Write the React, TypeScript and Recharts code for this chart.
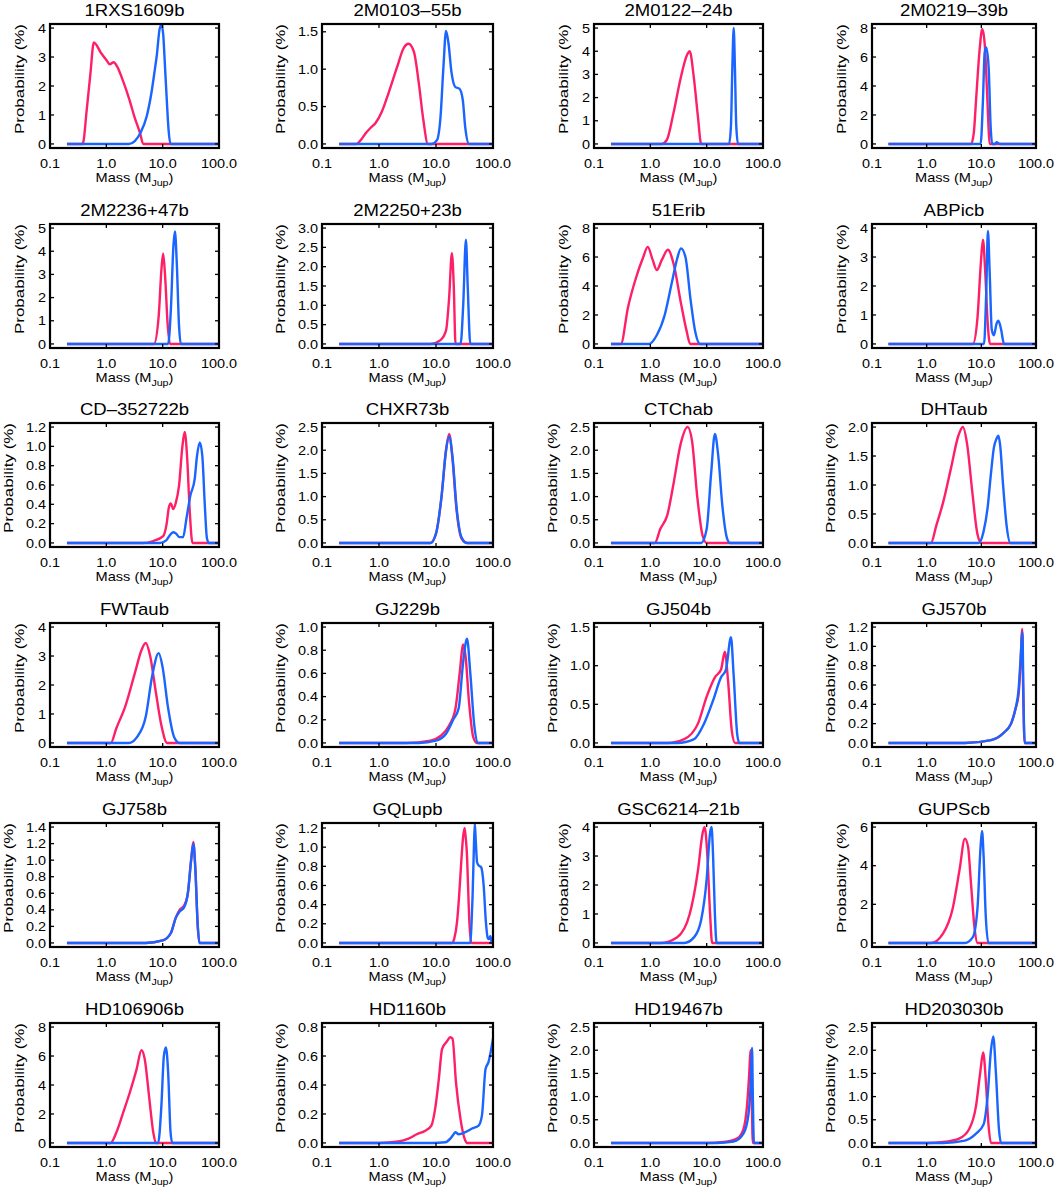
import React from 'react';
import { LineChart, Line, XAxis, YAxis } from 'recharts';

type Pt = [number, number];

const FONT = '"Liberation Sans", Arial, Helvetica, sans-serif';
const PINK = '#ff1f66';
const BLUE = '#1a64ff';

// Object names, in reading order (4 per row)
const TITLES = [
  '1RXS1609b', '2M0103–55b', '2M0122–24b', '2M0219–39b',
  '2M2236+47b', '2M2250+23b', '51Erib', 'ABPicb',
  'CD–352722b', 'CHXR73b', 'CTChab', 'DHTaub',
  'FWTaub', 'GJ229b', 'GJ504b', 'GJ570b',
  'GJ758b', 'GQLupb', 'GSC6214–21b', 'GUPScb',
  'HD106906b', 'HD1160b', 'HD19467b', 'HD203030b',
];

// Mass axis (Jupiter masses, log)
const X_TICKS = [0.1, 1, 10, 100];
const X_TICK_LABELS = ['0.1', '1.0', '10.0', '100.0'];

// Probability axis: upper data bound, tick values and decimals per panel
const Y_MAX = [4, 1.55, 5, 8, 5, 3, 8, 4, 1.2, 2.5, 2.5, 2, 4, 1, 1.5, 1.2, 1.4, 1.21, 4, 6, 8, 0.8, 2.5, 2.5];
const Y_TICKS: number[][] = [
  [0, 1, 2, 3, 4], [0, 0.5, 1, 1.5], [0, 1, 2, 3, 4, 5], [0, 2, 4, 6, 8],
  [0, 1, 2, 3, 4, 5], [0, 0.5, 1, 1.5, 2, 2.5, 3], [0, 2, 4, 6, 8], [0, 1, 2, 3, 4],
  [0, 0.2, 0.4, 0.6, 0.8, 1, 1.2], [0, 0.5, 1, 1.5, 2, 2.5], [0, 0.5, 1, 1.5, 2, 2.5], [0, 0.5, 1, 1.5, 2],
  [0, 1, 2, 3, 4], [0, 0.2, 0.4, 0.6, 0.8, 1], [0, 0.5, 1, 1.5], [0, 0.2, 0.4, 0.6, 0.8, 1, 1.2],
  [0, 0.2, 0.4, 0.6, 0.8, 1, 1.2, 1.4], [0, 0.2, 0.4, 0.6, 0.8, 1, 1.2], [0, 1, 2, 3, 4], [0, 2, 4, 6],
  [0, 2, 4, 6, 8], [0, 0.2, 0.4, 0.6, 0.8], [0, 0.5, 1, 1.5, 2, 2.5], [0, 0.5, 1, 1.5, 2, 2.5],
];
const Y_DECIMALS = [0, 1, 0, 0, 0, 1, 0, 0, 1, 1, 1, 1, 0, 1, 1, 1, 1, 1, 0, 0, 0, 1, 1, 1];

// Probability distributions: [mass, probability %]
const RXS1609_PINK: Pt[] = [[0.2, 0], [0.38, 0], [0.45, 1.2], [0.52, 2.4], [0.6, 3.5], [0.8, 3.15], [1.0, 2.9], [1.15, 2.75], [1.35, 2.82], [1.55, 2.68], [2.0, 2.15], [2.5, 1.6], [3.2, 0.9], [4.0, 0.35], [4.5, 0], [100, 0]];
const RXS1609_BLUE: Pt[] = [[0.2, 0], [2.5, 0], [3.2, 0.1], [4.0, 0.37], [5.2, 0.95], [6.3, 1.75], [7.3, 2.6], [7.8, 3.0], [8.9, 4.0], [9.5, 4.1], [10.2, 3.8], [11.0, 2.67], [12.0, 1.3], [12.6, 0.6], [13.8, 0], [100, 0]];

const M0103_PINK: Pt[] = [[0.2, 0], [0.4, 0], [0.5, 0.07], [0.58, 0.14], [0.72, 0.22], [0.87, 0.28], [1.12, 0.43], [1.47, 0.68], [2.08, 1.03], [2.7, 1.28], [3.3, 1.34], [4.1, 1.23], [5.0, 0.81], [6.0, 0.32], [7.2, 0], [100, 0]];
const M0103_BLUE: Pt[] = [[0.2, 0], [8.5, 0], [10.4, 0.05], [12, 0.36], [13.5, 1.03], [15, 1.51], [16.6, 1.34], [18.6, 0.97], [21.9, 0.76], [25.7, 0.74], [29.5, 0.59], [32.5, 0.23], [38, 0], [100, 0]];

const M0122_PINK: Pt[] = [[0.2, 0], [1.59, 0], [1.96, 0.17], [2.57, 1.32], [3.39, 2.75], [4.46, 3.83], [5.0, 4.0], [5.9, 2.89], [7.0, 1.17], [8.0, 0], [100, 0]];
const M0122_BLUE: Pt[] = [[0.2, 0], [25, 0], [27, 0.8], [28.5, 3.2], [30.2, 5.0], [31.8, 3.2], [33.5, 0.8], [36, 0], [100, 0]];

const M0219_PINK: Pt[] = [[0.2, 0], [6.5, 0], [7.3, 0.8], [8.0, 3.0], [9.3, 6.5], [10.4, 7.93], [11.5, 6.96], [12.9, 3.04], [13.6, 1.0], [14.2, 0], [100, 0]];
const M0219_BLUE: Pt[] = [[0.2, 0], [9.7, 0], [10.7, 3.0], [11.5, 6.3], [12.3, 6.66], [13.6, 5.3], [14.8, 1.2], [15.8, 0], [18, 0], [19, 0.12], [21.8, 0], [100, 0]];

const M2236_PINK: Pt[] = [[0.2, 0], [7, 0], [8.5, 1.2], [9.5, 3.2], [10.2, 3.9], [11, 3.0], [12.3, 0.8], [13.5, 0], [100, 0]];
const M2236_BLUE: Pt[] = [[0.2, 0], [12.5, 0], [14, 1.5], [15.5, 4.2], [16.5, 4.85], [17.8, 3.5], [19.5, 0.8], [21, 0], [100, 0]];

const M2250_PINK: Pt[] = [[0.2, 0], [8, 0], [12, 0.1], [15, 0.35], [17, 1.2], [19, 2.35], [20.5, 1.5], [22, 0], [100, 0]];
const M2250_BLUE: Pt[] = [[0.2, 0], [27, 0], [30, 1.0], [33.5, 2.7], [36, 1.5], [40, 0], [100, 0]];

const ERI51_PINK: Pt[] = [[0.2, 0], [0.3, 0], [0.4, 2.5], [0.55, 4.5], [0.75, 6.0], [0.9, 6.7], [1.1, 5.8], [1.3, 5.1], [1.6, 5.8], [2.05, 6.5], [2.6, 5.5], [3.5, 2.8], [4.4, 0.9], [5.1, 0], [100, 0]];
const ERI51_BLUE: Pt[] = [[0.2, 0], [0.95, 0], [1.3, 0.6], [1.8, 2.0], [2.4, 4.2], [3.0, 5.9], [3.5, 6.6], [4.2, 6.0], [5.2, 3.0], [6.3, 0.8], [7.6, 0], [100, 0]];

const ABPIC_PINK: Pt[] = [[0.2, 0], [7, 0], [8.5, 0.9], [9.8, 2.8], [10.7, 3.6], [11.7, 2.6], [13, 0.8], [14.4, 0], [100, 0]];
const ABPIC_BLUE: Pt[] = [[0.2, 0], [11.2, 0], [12.3, 1.8], [13.2, 3.9], [14.2, 2.5], [15.5, 0.5], [17, 0.3], [19, 0.7], [20.5, 0.8], [23, 0.5], [26, 0], [100, 0]];

const CD35_PINK: Pt[] = [[0.2, 0], [4.5, 0], [6.8, 0.02], [10.2, 0.07], [11.7, 0.19], [12.9, 0.37], [13.9, 0.41], [15.4, 0.35], [17, 0.41], [19.5, 0.59], [22.4, 1.0], [24.6, 1.15], [27.1, 0.9], [30.3, 0.32], [33.8, 0], [100, 0]];
const CD35_BLUE: Pt[] = [[0.2, 0], [8.9, 0], [11.7, 0.03], [13.4, 0.08], [15.3, 0.11], [17, 0.1], [20, 0.06], [23, 0.06], [26.4, 0.25], [31, 0.49], [37, 0.66], [40.7, 0.9], [45.6, 1.04], [50.6, 0.9], [56, 0.39], [61, 0.05], [66, 0], [100, 0]];

const CHXR73_PINK: Pt[] = [[0.2, 0], [8, 0], [10, 0.2], [12.5, 1.0], [15, 2.0], [17, 2.35], [19.5, 1.8], [23, 0.7], [28, 0.1], [35, 0], [100, 0]];
const CHXR73_BLUE: Pt[] = [[0.2, 0], [8, 0], [10, 0.2], [12.5, 1.0], [15, 2.0], [17, 2.3], [19.5, 1.85], [23, 0.75], [28, 0.12], [35, 0], [100, 0]];

const CTCHA_PINK: Pt[] = [[0.2, 0], [1.2, 0], [1.5, 0.3], [2.0, 0.6], [2.6, 1.3], [3.4, 2.1], [4.6, 2.5], [5.5, 2.2], [6.8, 1.0], [8.5, 0.15], [10, 0], [100, 0]];
const CTCHA_BLUE: Pt[] = [[0.2, 0], [8, 0], [10, 0.3], [12, 1.5], [14, 2.35], [16, 1.9], [19, 0.8], [23, 0.1], [26, 0], [100, 0]];

const DHTAU_PINK: Pt[] = [[0.2, 0], [1.2, 0], [1.5, 0.3], [2.0, 0.7], [2.8, 1.3], [3.8, 1.85], [4.6, 2.0], [5.5, 1.7], [6.8, 0.9], [8.5, 0.15], [10, 0], [100, 0]];
const DHTAU_BLUE: Pt[] = [[0.2, 0], [9, 0], [11, 0.2], [13, 0.6], [15, 1.2], [17, 1.65], [19, 1.8], [20.5, 1.85], [22, 1.7], [25, 1.0], [29, 0.3], [34, 0], [100, 0]];

const FWTAU_PINK: Pt[] = [[0.2, 0], [1.2, 0], [1.5, 0.5], [2.2, 1.3], [3.2, 2.4], [4.2, 3.2], [5.0, 3.45], [6, 3.0], [7.5, 1.8], [9.5, 0.6], [12, 0], [100, 0]];
const FWTAU_BLUE: Pt[] = [[0.2, 0], [2.5, 0], [3.5, 0.2], [5, 0.9], [6.5, 2.3], [8.5, 3.1], [10, 2.6], [12.5, 1.2], [16, 0.2], [20, 0], [100, 0]];

const GJ229_PINK: Pt[] = [[0.2, 0], [3, 0], [8, 0.02], [12, 0.06], [17, 0.15], [22, 0.3], [26, 0.6], [30, 0.85], [33, 0.75], [38, 0.35], [45, 0.05], [52, 0], [100, 0]];
const GJ229_BLUE: Pt[] = [[0.2, 0], [5, 0], [10, 0.02], [15, 0.08], [20, 0.2], [25, 0.3], [30, 0.7], [35, 0.9], [40, 0.6], [47, 0.15], [55, 0], [100, 0]];

const GJ504_PINK: Pt[] = [[0.2, 0], [2, 0], [4, 0.05], [7, 0.25], [10, 0.6], [14, 0.85], [18, 0.95], [21, 1.18], [24, 0.8], [28, 0.15], [32, 0], [100, 0]];
const GJ504_BLUE: Pt[] = [[0.2, 0], [3, 0], [6, 0.05], [9, 0.25], [13, 0.55], [18, 0.85], [22, 0.95], [27, 1.37], [30, 0.9], [35, 0.1], [38, 0], [100, 0]];

const GJ570_PINK: Pt[] = [[0.2, 0], [5, 0], [15, 0.03], [25, 0.1], [35, 0.2], [42, 0.35], [48, 0.5], [52, 0.8], [56, 1.18], [58, 0.6], [62, 0], [100, 0]];
const GJ570_BLUE: Pt[] = [[0.2, 0], [5, 0], [15, 0.03], [25, 0.1], [35, 0.2], [42, 0.35], [48, 0.55], [52, 0.85], [56.5, 1.15], [58.5, 0.6], [62, 0], [100, 0]];

const GJ758_PINK: Pt[] = [[0.2, 0], [5, 0], [10, 0.03], [14, 0.12], [17, 0.3], [20, 0.4], [24, 0.45], [28, 0.6], [32, 1.0], [35, 1.22], [38, 0.9], [42, 0.2], [45, 0], [100, 0]];
const GJ758_BLUE: Pt[] = [[0.2, 0], [5, 0], [10, 0.03], [14, 0.12], [17, 0.3], [20, 0.38], [24, 0.43], [28, 0.6], [32, 1.0], [35, 1.2], [38, 0.9], [42, 0.2], [45, 0], [100, 0]];

const GQLUP_PINK: Pt[] = [[0.2, 0], [19, 0], [21, 0.05], [23.4, 0.22], [25.5, 0.5], [27.7, 0.84], [29.8, 1.1], [31.7, 1.2], [33.2, 1.1], [34.8, 0.94], [36.5, 0.6], [38.2, 0.26], [41.7, 0], [100, 0]];
const GQLUP_BLUE: Pt[] = [[0.2, 0], [40, 0], [42, 0.2], [43.9, 0.5], [46, 0.95], [47.9, 1.25], [50, 1.05], [52.6, 0.84], [56, 0.81], [62, 0.79], [68.6, 0.6], [75, 0.22], [81, 0.05], [85, 0.04], [89.7, 0.07], [96, 0], [100, 0.02]];

const GSC6214_PINK: Pt[] = [[0.2, 0], [1.5, 0], [3, 0.2], [5, 1.0], [7, 2.5], [8.5, 3.8], [9.2, 4.0], [10.3, 3.0], [11.5, 1.0], [12.5, 0], [100, 0]];
const GSC6214_BLUE: Pt[] = [[0.2, 0], [4, 0], [6, 0.2], [8, 0.8], [10, 2.2], [11.5, 3.8], [12.2, 4.0], [13, 3.0], [14, 1.0], [15, 0], [100, 0]];

const GUPS_PINK: Pt[] = [[0.2, 0], [1.2, 0], [2, 0.5], [3, 1.8], [4, 3.8], [5, 5.4], [5.7, 5.0], [6.5, 3.0], [7.5, 0.8], [8.5, 0], [100, 0]];
const GUPS_BLUE: Pt[] = [[0.2, 0], [5, 0], [7, 0.3], [8.5, 1.8], [9.7, 5.0], [10.3, 5.8], [11, 4.5], [12, 1.5], [13.5, 0], [100, 0]];

const HD106906_PINK: Pt[] = [[0.2, 0], [1.19, 0], [1.51, 0.74], [1.99, 2.1], [2.62, 3.5], [3.45, 5.1], [4.2, 6.4], [4.8, 5.8], [5.8, 3.04], [6.8, 0.74], [7.6, 0], [100, 0]];
const HD106906_BLUE: Pt[] = [[0.2, 0], [8.3, 0], [9.5, 2.6], [10.5, 6.0], [11.4, 6.6], [12.5, 4.9], [13.8, 0.74], [14.8, 0], [100, 0]];

const HD1160_PINK: Pt[] = [[0.2, 0], [1.0, 0], [2.2, 0.01], [3.3, 0.03], [4.6, 0.06], [6.5, 0.085], [8.3, 0.12], [9.7, 0.24], [11.2, 0.44], [12.8, 0.65], [15.5, 0.7], [17.8, 0.73], [19.5, 0.72], [22.4, 0.42], [26.8, 0.17], [31.7, 0.03], [34.8, 0], [100, 0]];
const HD1160_BLUE: Pt[] = [[0.2, 0], [8.5, 0], [14.6, 0.005], [17.8, 0.03], [20.4, 0.06], [21.8, 0.074], [25, 0.06], [32.5, 0.074], [42.8, 0.1], [56, 0.12], [64, 0.19], [74, 0.51], [83.6, 0.56], [100, 0.72]];

const HD19467_PINK: Pt[] = [[0.2, 0], [10, 0], [20, 0.02], [35, 0.1], [45, 0.3], [52, 0.8], [57, 1.5], [60, 2.0], [63, 1.0], [66, 0], [100, 0]];
const HD19467_BLUE: Pt[] = [[0.2, 0], [15, 0], [30, 0.03], [45, 0.2], [55, 0.6], [60, 1.2], [64, 2.05], [66, 1.0], [69, 0], [100, 0]];

const HD203030_PINK: Pt[] = [[0.2, 0], [1, 0], [2, 0.02], [4, 0.1], [6, 0.3], [8, 0.8], [9.5, 1.5], [10.8, 1.95], [12, 1.4], [13.5, 0.4], [15, 0], [100, 0]];
const HD203030_BLUE: Pt[] = [[0.2, 0], [2, 0], [5, 0.05], [8, 0.2], [11, 0.4], [13, 1.0], [15, 2.0], [16.5, 2.3], [18.5, 1.5], [21, 0.3], [23, 0], [100, 0]];

const PINK_CURVES = [
  RXS1609_PINK, M0103_PINK, M0122_PINK, M0219_PINK,
  M2236_PINK, M2250_PINK, ERI51_PINK, ABPIC_PINK,
  CD35_PINK, CHXR73_PINK, CTCHA_PINK, DHTAU_PINK,
  FWTAU_PINK, GJ229_PINK, GJ504_PINK, GJ570_PINK,
  GJ758_PINK, GQLUP_PINK, GSC6214_PINK, GUPS_PINK,
  HD106906_PINK, HD1160_PINK, HD19467_PINK, HD203030_PINK,
];
const BLUE_CURVES = [
  RXS1609_BLUE, M0103_BLUE, M0122_BLUE, M0219_BLUE,
  M2236_BLUE, M2250_BLUE, ERI51_BLUE, ABPIC_BLUE,
  CD35_BLUE, CHXR73_BLUE, CTCHA_BLUE, DHTAU_BLUE,
  FWTAU_BLUE, GJ229_BLUE, GJ504_BLUE, GJ570_BLUE,
  GJ758_BLUE, GQLUP_BLUE, GSC6214_BLUE, GUPS_BLUE,
  HD106906_BLUE, HD1160_BLUE, HD19467_BLUE, HD203030_BLUE,
];

// Page layout: plot-box edges per column, row pitch
const COL_X: [number, number][] = [[50, 219], [322, 493], [594, 763], [872, 1036]];
const ROW_TOP0 = 24;
const ROW_PITCH = 199.7;
const PLOT_H = 124;

const toRows = (pts: Pt[]) => pts.map(([m, p]) => ({ m, p }));

const hStretch = (x: number, k: number) => `translate(${x} 0) scale(${k} 1) translate(${-x} 0)`;

function XTick(props: any) {
  const { x, y, payload, index } = props;
  return (
    <text x={x} y={y + 20} textAnchor="middle" fontSize={12.8} fontFamily={FONT} fill="#000"
      transform={hStretch(x, 1.13)}>
      {X_TICK_LABELS[index] ?? String(payload.value)}
    </text>
  );
}

function makeYTick(decimals: number) {
  return function YTick(props: any) {
    const { x, y, payload } = props;
    const tx = x - 4;
    return (
      <text x={tx} y={y + 4.6} textAnchor="end" fontSize={12.8} fontFamily={FONT} fill="#000"
        transform={hStretch(tx, 1.13)}>
        {Number(payload.value).toFixed(decimals)}
      </text>
    );
  };
}

// Box outline with inward major ticks mirrored on the top and right edges
function PlotFrame({ w, h, domain, yTicks }: { w: number; h: number; domain: [number, number]; yTicks: number[] }) {
  const px = (m: number) => 2 + (w * (Math.log10(m) + 1)) / 3;
  const py = (v: number) => 2 + (h * (domain[1] - v)) / (domain[1] - domain[0]);
  return (
    <svg width={w + 4} height={h + 4} style={{ position: 'absolute', left: -2, top: -2, overflow: 'visible' }}>
      <rect x={2} y={2} width={w} height={h} fill="none" stroke="#000" strokeWidth={2.2} />
      {X_TICKS.slice(1, -1).map((m) => (
        <line key={`t${m}`} x1={px(m)} x2={px(m)} y1={2} y2={6} stroke="#000" strokeWidth={1.3} />
      ))}
      {yTicks.map((v) => (
        <line key={`r${v}`} x1={w + 2} x2={w - 2} y1={py(v)} y2={py(v)} stroke="#000" strokeWidth={1.3} />
      ))}
    </svg>
  );
}

function Panel({ idx }: { idx: number }) {
  const col = idx % 4;
  const row = Math.floor(idx / 4);
  const [x0, x1] = COL_X[col];
  const top = Math.round(ROW_TOP0 + ROW_PITCH * row);
  const w = x1 - x0;
  const LEFT = 60, RIGHT = 30, TOP = 12, BOTTOM = 30;
  const yMax = Y_MAX[idx];
  const domain: [number, number] = [-0.035 * yMax, 1.035 * yMax];
  const decimals = Y_DECIMALS[idx];
  const tickLabelW = Math.max(...Y_TICKS[idx].map((t) => t.toFixed(decimals).length)) * 7.2 - (decimals ? 3.5 : 0);
  const yLabelX = x0 - tickLabelW - 23;
  const axisLine = { stroke: '#000', strokeWidth: 2 };
  const tickLine = { stroke: '#000', strokeWidth: 1.3 };

  return (
    <>
      <div style={{ position: 'absolute', left: x0 - LEFT, top: top - TOP, zIndex: 1 }}>
        <LineChart width={w + LEFT + RIGHT} height={PLOT_H + TOP + BOTTOM}
          margin={{ top: TOP, right: RIGHT, bottom: 0, left: 0 }}>
          <XAxis xAxisId="b" dataKey="m" type="number" scale="log" domain={[0.1, 100]} ticks={X_TICKS}
            allowDataOverflow height={BOTTOM} tickSize={-4} tickMargin={4}
            axisLine={axisLine} tickLine={tickLine} tick={XTick} interval={0} />
          <YAxis yAxisId="l" type="number" domain={domain} ticks={Y_TICKS[idx]} allowDataOverflow
            width={LEFT} tickSize={-4} tickMargin={4} axisLine={axisLine} tickLine={tickLine}
            tick={makeYTick(decimals)} interval={0} />
          <Line xAxisId="b" yAxisId="l" data={toRows(PINK_CURVES[idx])} dataKey="p" type="monotone"
            stroke={PINK} strokeWidth={2.4} dot={false} isAnimationActive={false} />
          <Line xAxisId="b" yAxisId="l" data={toRows(BLUE_CURVES[idx])} dataKey="p" type="monotone"
            stroke={BLUE} strokeWidth={2.4} dot={false} isAnimationActive={false} />
        </LineChart>
      </div>
      <div style={{ position: 'absolute', left: x0, top, width: w, height: PLOT_H, zIndex: 5, pointerEvents: 'none' }}>
        <PlotFrame w={w} h={PLOT_H} domain={domain} yTicks={Y_TICKS[idx]} />
      </div>
      <div style={{
        position: 'absolute', left: x0, width: w, top: top - 24, height: 22, lineHeight: '22px',
        fontSize: 17, fontFamily: FONT, textAlign: 'center', color: '#000', transform: 'scaleX(1.09)',
        whiteSpace: 'nowrap',
      }}>{TITLES[idx]}</div>
      <div style={{
        position: 'absolute', left: x0, width: w, top: top + PLOT_H + 22, height: 16, lineHeight: '16px',
        fontSize: 13, fontFamily: FONT, textAlign: 'center', color: '#000', transform: 'scaleX(1.12)',
        whiteSpace: 'nowrap',
      }}>
        Mass (M<span style={{ fontSize: 9.5, position: 'relative', top: 3.5 }}>Jup</span>)
      </div>
      <div style={{
        position: 'absolute', left: yLabelX - 100, width: 200, top: top + PLOT_H / 2 - 7 - 8,
        height: 16, lineHeight: '16px', fontSize: 13, fontFamily: FONT, textAlign: 'center', color: '#000',
        transform: 'rotate(-90deg) scaleX(1.3)', whiteSpace: 'nowrap',
      }}>Probability (%)</div>
    </>
  );
}

export default function App() {
  return (
    <div style={{ position: 'absolute', left: 0, top: 0, width: 1062, height: 1191, background: '#fff', overflow: 'hidden' }}>
      {TITLES.map((_, i) => <Panel key={i} idx={i} />)}
    </div>
  );
}
